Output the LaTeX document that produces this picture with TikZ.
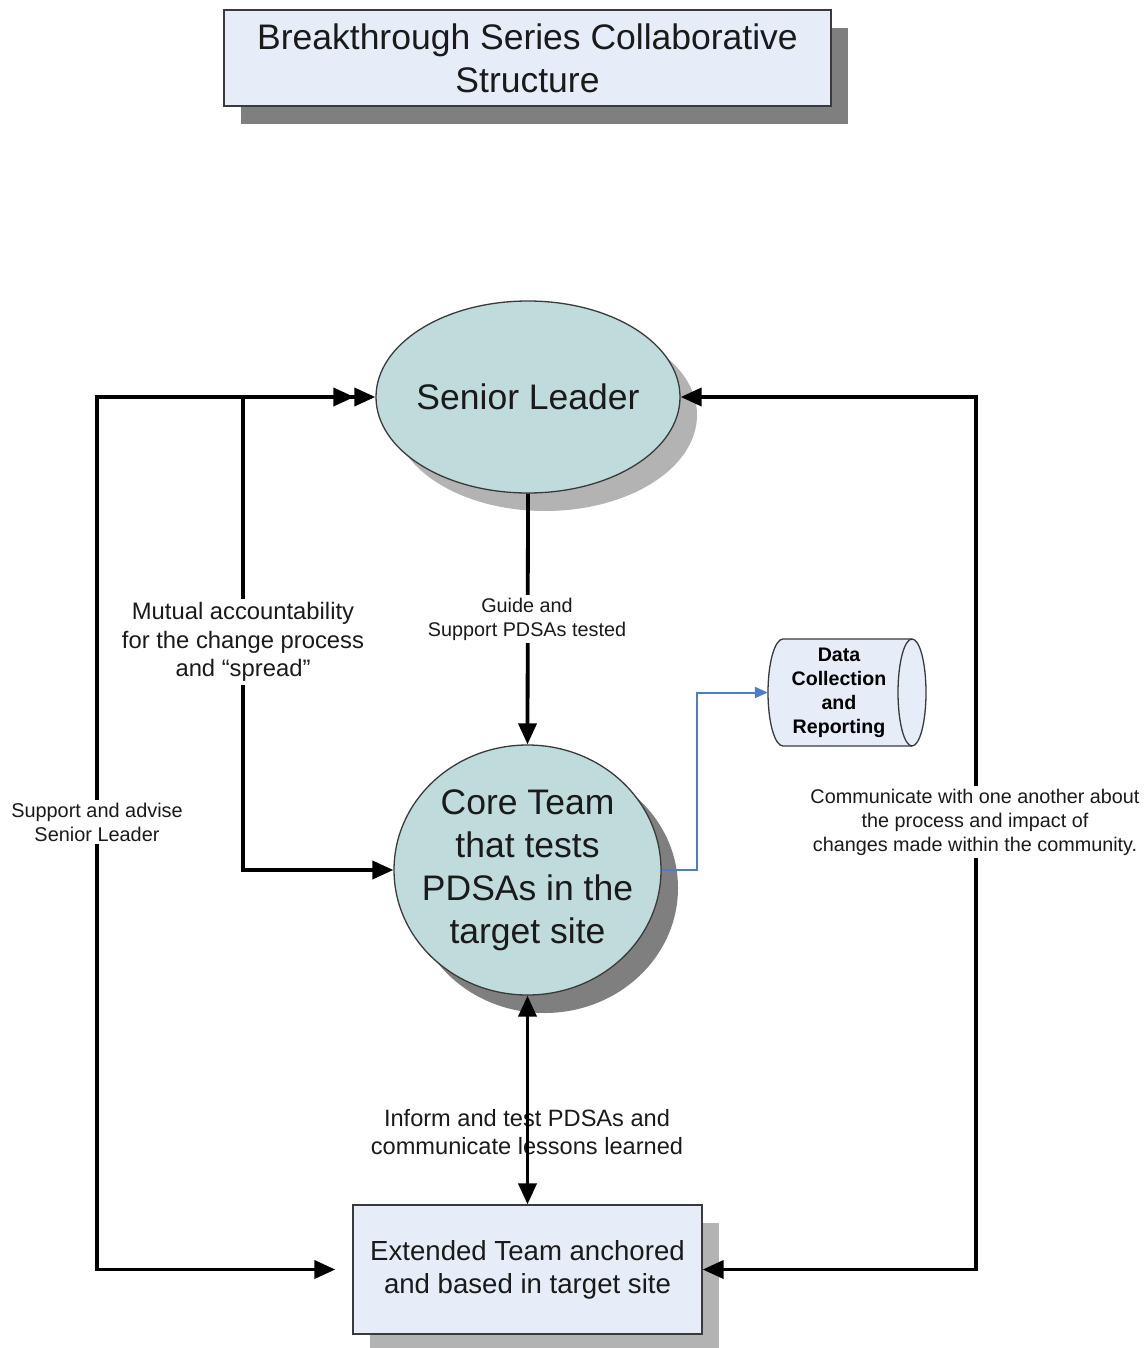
\documentclass[tikz,border=0pt]{standalone}
\usepackage{fontspec}
\setmainfont{Liberation Sans}
\usetikzlibrary{shapes.geometric,arrows.meta,shadows}
\definecolor{boxfill}{HTML}{E6ECF8}
\definecolor{ellfill}{HTML}{BFDBDB}
\definecolor{edge}{HTML}{3A3A3A}
\definecolor{shdark}{HTML}{7F7F7F}
\definecolor{shlight}{HTML}{B3B3B3}
\definecolor{linkblue}{HTML}{4A7EC7}
\definecolor{ink}{HTML}{1A1A1A}
\tikzset{
  boxshape/.style={rectangle, draw=edge, line width=1.3pt, fill=boxfill, text=ink, align=center, inner sep=0pt},
  ellshape/.style={ellipse, draw=edge, line width=1.3pt, fill=ellfill, text=ink, align=center, inner xsep=-20pt, inner ysep=-10pt},
  shadowdark/.style={general shadow={fill=shdark, draw=none, shadow xshift=17pt, shadow yshift=-18pt}},
  shadowlight/.style={general shadow={fill=shlight, draw=none, shadow xshift=17pt, shadow yshift=-18pt}},
  conn/.style={line width=3.8pt, black, >={Triangle[length=21pt,width=18pt]}},
  bluelink/.style={line width=2pt, linkblue, >={Triangle[length=13pt,width=11pt]}},
  lbl/.style={fill=white, text=ink, align=center, inner sep=3pt},
  bigtext/.style={font=\fontsize{35.5}{43}\selectfont},
  drumline/.style={draw=edge, line width=1.3pt},
}
\begin{document}
\begin{tikzpicture}[x=1pt,y=-1pt]
\fill[white] (0,0) rectangle (1145,1348);
\useasboundingbox (0,0) rectangle (1145,1348);

% title
\node[boxshape, shadowdark, bigtext, minimum width=607pt, minimum height=96pt] (title) at (527.5,58)
  {Breakthrough Series Collaborative\\Structure};

% main nodes
\node[ellshape, shadowlight, bigtext, minimum width=304pt, minimum height=192pt] (sl) at (528,397) {Senior Leader};
\node[ellshape, shadowdark, bigtext, minimum width=267pt, minimum height=250pt] (core) at (527.5,870)
  {Core Team\\that tests\\PDSAs in the\\target site};
\node[boxshape, shadowlight, font=\fontsize{27.6}{33}\selectfont, minimum width=349pt, minimum height=129pt] (ext) at (527.5,1269.5)
  {Extended Team anchored\\and based in target site};

% data store (horizontal drum)
\draw[drumline, fill=boxfill] (783,639) -- (912,639)
  arc[start angle=90, end angle=-90, x radius=14pt, y radius=53.5pt] -- (783,746)
  arc[start angle=270, end angle=90, x radius=15pt, y radius=53.5pt] -- cycle;
\draw[drumline] (912,639) arc[start angle=90, end angle=270, x radius=14pt, y radius=53.5pt];
\node[text=black, align=center, inner sep=0pt, minimum width=142pt, minimum height=107pt,
  font=\bfseries\fontsize{19.6}{24}\selectfont] (dc) at (839,692.5)
  {Data\\Collection\\and\\Reporting};

% label drawn under its connector
\node[text=ink, align=center, font=\fontsize{23.6}{28}\selectfont] (linform) at (527,1132)
  {Inform and test PDSAs and\\communicate lessons learned};

% connectors
\draw[conn, ->] (sl.south) -- (core.north);
\draw[conn, <->] (core.south) -- (ext.north);
\draw[conn, <->, shorten >=17pt] (sl.west) -- (97,397) |- (ext.west);
\draw[conn, <->, shorten <=21pt] (sl.west) -- (243,397) |- (core.west);
\draw[conn, <->] (sl.east) -- (976,397) |- (ext.east);
\draw[bluelink, ->] (core.east) -- (697,870) |- (dc.west);

% labels on white
\node[lbl, font=\fontsize{19.8}{24}\selectfont] (lguide) at (527,619) {Guide and\\Support PDSAs tested};
\node[lbl, font=\fontsize{23.8}{28.5}\selectfont] (lmutual) at (243,642)
  {Mutual accountability\\for the change process\\and “spread”};
\node[lbl, font=\fontsize{19.9}{24}\selectfont] (lsupport) at (97,822) {Support and advise\\Senior Leader};
\node[lbl, font=\fontsize{19.8}{24}\selectfont] (lcomm) at (975,822)
  {Communicate with one another about\\the process and impact of\\changes made within the community.};
\end{tikzpicture}
\end{document}
